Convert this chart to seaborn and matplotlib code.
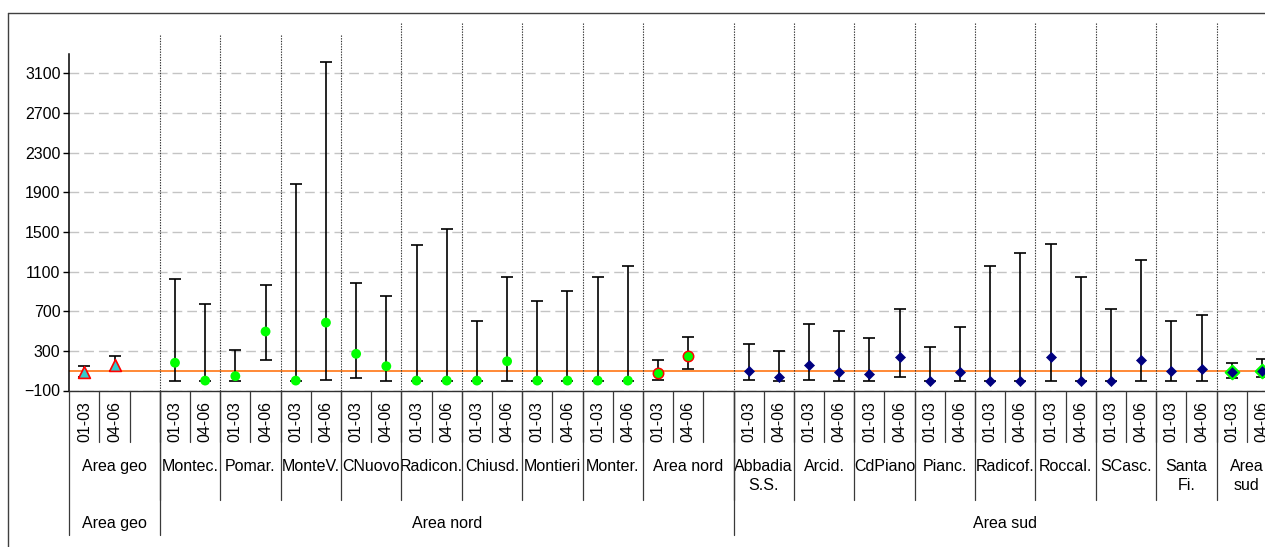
import matplotlib
matplotlib.use("Agg")
import matplotlib.pyplot as plt
import matplotlib.transforms as mtransforms
from matplotlib.lines import Line2D
import numpy as np
import pandas as pd
import seaborn as sns

# ---------------------------------------------------------------- data
periods = ["01-03", "04-06"]

geo_label = "Area geo"
geo_mid = [90, 160]
geo_low = [40, 95]
geo_high = [150, 250]

nord_towns = ["Montec.", "Pomar.", "MonteV.", "CNuovo", "Radicon.",
              "Chiusd.", "Montieri", "Monter."]
nord_mid = [180, 0, 45, 495, 0, 585, 270, 145,
            0, 0, 0, 195, 0, 0, 0, 0]
nord_low = [0, 0, 0, 205, 0, 10, 25, 0,
            0, 0, 0, 0, 0, 0, 0, 0]
nord_high = [1025, 775, 305, 960, 1980, 3215, 980, 850,
             1365, 1525, 605, 1050, 800, 900, 1050, 1155]

nord_area_label = "Area nord"
nord_area_mid = [80, 245]
nord_area_low = [10, 115]
nord_area_high = [205, 440]

sud_towns = ["Abbadia\nS.S.", "Arcid.", "CdPiano", "Pianc.", "Radicof.",
             "Roccal.", "SCasc.", "Santa\nFi."]
sud_mid = [100, 35, 160, 90, 70, 235, 0, 85,
           0, 0, 235, 0, 0, 205, 100, 120]
sud_low = [10, 0, 10, 0, 0, 40, 0, 0,
           0, 0, 0, 0, 0, 0, 0, 0]
sud_high = [370, 295, 575, 500, 430, 720, 335, 545,
            1155, 1290, 1380, 1050, 720, 1220, 605, 665]

sud_area_label = "Area\nsud"
sud_area_mid = [90, 100]
sud_area_low = [25, 40]
sud_area_high = [175, 220]

areas = ["Area geo", "Area nord", "Area sud"]
limit_value = 100
y_ticks = list(range(-100, 3101, 400))

# ------------------------------------------------- category slot layout
def town_blocks(names, mid, low, high, kind):
    return [(n, kind, mid[2 * i:2 * i + 2], low[2 * i:2 * i + 2],
             high[2 * i:2 * i + 2], False) for i, n in enumerate(names)]

layout = [
    (areas[0], [(geo_label, "geo", geo_mid, geo_low, geo_high, True)]),
    (areas[1], town_blocks(nord_towns, nord_mid, nord_low, nord_high, "nord")
     + [(nord_area_label, "nord_area", nord_area_mid, nord_area_low,
         nord_area_high, True)]),
    (areas[2], town_blocks(sud_towns, sud_mid, sud_low, sud_high, "sud")
     + [(sud_area_label, "sud_area", sud_area_mid, sud_area_low,
         sud_area_high, False)]),
]

records, sub_spans, area_spans = [], [], []
slot = 0
for area, blocks in layout:
    a_start = slot
    for label, kind, mid, low, high, blank in blocks:
        s_start = slot
        for p, m, lo, hi in zip(periods, mid, low, high):
            records.append(dict(pos=slot, period=p, place=label, kind=kind,
                                mid=m, low=lo, high=hi))
            slot += 1
        if blank:
            slot += 1
        sub_spans.append((label, s_start, slot))
    area_spans.append((area, a_start, slot))
n_slots = slot
df = pd.DataFrame(records)

# ---------------------------------------------------------------- figure
sns.set_theme(style="ticks")
plt.rcParams["font.family"] = ["Liberation Sans", "DejaVu Sans"]
FS = 11.5

W, H = 1265, 547
fig = plt.figure(figsize=(W / 100, H / 100), dpi=100)
fig.patch.set_facecolor("white")


def fy(p):
    return 1 - p / H


def fx(p):
    return p / W


X0, X1, Y_AX, Y_TOP = 69.3, 1277.0, 390.5, 53.5
ax = fig.add_axes([fx(X0), fy(Y_AX), (X1 - X0) / W, (Y_AX - Y_TOP) / H])
ax.set_facecolor("white")

ax.set_xlim(-0.5, n_slots - 0.5)
ax.set_ylim(-100, 3300)
ax.set_yticks(y_ticks)
ax.set_xticks([])
ax.yaxis.grid(True, color="#c4c4c4", linewidth=1.0, linestyle=(0, (7, 3.6)))
ax.set_axisbelow(True)
for side in ("top", "right"):
    ax.spines[side].set_visible(False)
ax.spines["left"].set_color("black")
ax.spines["left"].set_linewidth(1.1)
ax.spines["bottom"].set_color("#303030")
ax.spines["bottom"].set_linewidth(1.0)
ax.tick_params(axis="y", direction="out", length=4.3, width=1.0,
               color="black", pad=2, labelsize=FS, labelcolor="black")

# limit line
ax.axhline(limit_value, color="#FF6A00", linewidth=1.1, zorder=2.5)

# min-max ranges
ax.errorbar(df["pos"], df["mid"],
            yerr=[df["mid"] - df["low"], df["high"] - df["mid"]],
            fmt="none", ecolor="black", elinewidth=1.2, capsize=4.4,
            capthick=1.2, zorder=3)

# point markers per group kind
styles = {
    "geo": dict(marker="^", color="#33CCCC", edgecolor="#FF0000", s=72, linewidth=1.2),
    "nord": dict(marker="o", color="#00FF00", edgecolor="none", s=50, linewidth=0),
    "nord_area": dict(marker="o", color="#00FF00", edgecolor="#FF0000", s=56, linewidth=1.1),
    "sud": dict(marker="D", color="#000080", edgecolor="#000080", s=26, linewidth=0.5),
    "sud_area": dict(marker="D", color="#000080", edgecolor="#00FF00", s=48, linewidth=1.5),
}
for kind, st in styles.items():
    sns.scatterplot(data=df[df["kind"] == kind], x="pos", y="mid", ax=ax,
                    zorder=4, legend=False, **st)
ax.set_xlabel("")
ax.set_ylabel("")

# --------------------------------------- multi-level category axis
trans = mtransforms.blended_transform_factory(ax.transData, fig.transFigure)
sep_color = "#3a3a3a"


def vline(x, y_from, y_to, **kw):
    ln = Line2D([x, x], [fy(y_from), fy(y_to)], transform=trans,
                clip_on=False, **kw)
    fig.add_artist(ln)


# slot separators (first level)
for k in range(1, n_slots):
    vline(k - 0.5, Y_AX, 442, color=sep_color, lw=0.9)
# place separators (second level) and dotted guides above them
sub_edges = sorted({s for _, s, _ in sub_spans} | {e for _, _, e in sub_spans})
inner_edges = [e for e in sub_edges if 0 < e < n_slots]
for i, e in enumerate(inner_edges):
    vline(e - 0.5, Y_AX, 500, color=sep_color, lw=0.9)
    top = 35 if i < 4 else 23
    vline(e - 0.5, top, Y_AX, color="#333333", lw=0.8,
          linestyle=(0, (1.2, 1.2)), zorder=1)
# area separators (third level)
area_edges = sorted({s for _, s, _ in area_spans} | {e for _, _, e in area_spans})
for e in area_edges:
    vline(e - 0.5, Y_AX, 535, color=sep_color, lw=0.9)

# labels
for _, r in df.iterrows():
    ax.text(r["pos"], fy(401.5), r["period"], rotation=90, ha="center",
            va="top", transform=trans, fontsize=FS, color="black")
for label, s, e in sub_spans:
    ax.text((s + e - 1) / 2, fy(459), label, ha="center", va="top",
            transform=trans, fontsize=FS, color="black", linespacing=1.3)
for label, s, e in area_spans:
    ax.text((s + e - 1) / 2, fy(516), label, ha="center", va="top",
            transform=trans, fontsize=FS, color="black")

# outer chart border
fig.add_artist(Line2D([fx(8), fx(8)], [0, fy(13)], transform=fig.transFigure,
                      color="#404040", lw=1.0))
fig.add_artist(Line2D([fx(8), 1.0], [fy(13), fy(13)], transform=fig.transFigure,
                      color="#404040", lw=1.0))

fig.savefig("out.png", dpi=100, facecolor="white")
